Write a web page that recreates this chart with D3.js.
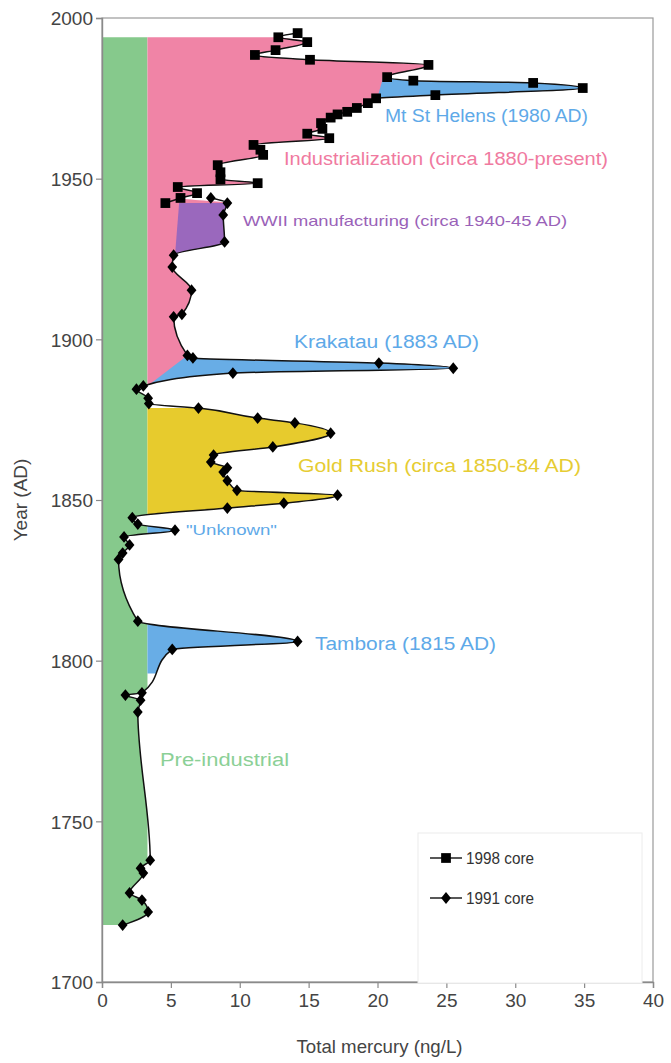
<!DOCTYPE html>
<html>
<head>
<meta charset="utf-8">
<script src="https://cdn.jsdelivr.net/npm/d3@7/dist/d3.min.js"></script>
<style>
  html, body { margin: 0; padding: 0; background: #fff; }
  svg { display: block; }
  .lbl { font-family: "Liberation Sans", Arial, sans-serif; }
</style>
</head>
<body>
<svg id="chart" width="671" height="1063"></svg>
<script>
// ---------------- DATA ----------------
// 1991 core (diamonds): year AD, total mercury ng/L
const years1991 = [1717.7, 1721.8, 1725.5, 1727.7, 1733.9, 1735.4, 1737.9, 1784.0, 1787.7, 1789.3, 1790.0,
  1803.5, 1806.0, 1812.3, 1831.5, 1833.5, 1836.0, 1838.5, 1840.6, 1842.5, 1844.5,
  1847.5, 1849.0, 1851.5, 1853.0, 1856.0, 1858.7, 1860.0, 1861.8, 1864.0, 1866.5, 1870.8, 1874.0, 1875.5, 1878.6,
  1880.0, 1881.7, 1884.5, 1885.5, 1889.5, 1891.0, 1892.6, 1894.2, 1895.0,
  1907.0, 1907.8, 1915.3, 1922.5, 1926.2, 1930.3, 1938.7, 1942.4, 1944.0];
const hg1991 = [1.5, 3.35, 2.9, 2.0, 3.0, 2.8, 3.5, 2.6, 2.8, 1.7, 2.9,
  5.1, 14.2, 2.6, 1.2, 1.5, 2.0, 1.6, 5.3, 2.6, 2.2,
  9.1, 13.2, 17.1, 9.8, 9.1, 8.8, 9.1, 7.9, 8.1, 12.4, 16.6, 14.0, 11.3, 7.0,
  3.4, 3.35, 2.5, 3.0, 9.5, 25.5, 20.1, 6.6, 6.2,
  5.2, 5.8, 6.5, 5.1, 5.2, 8.9, 8.8, 9.1, 7.9];

// 1998 core (squares)
const years1998 = [1942.4, 1944.0, 1945.5, 1947.4, 1948.6, 1949.8, 1952.0, 1954.2, 1957.4, 1959.0, 1960.5,
  1962.6, 1964.0, 1965.5, 1967.3, 1969.0, 1970.0, 1970.8, 1972.0, 1973.5, 1975.0, 1976.0, 1978.2,
  1979.8, 1980.5, 1981.6, 1985.4, 1987.0, 1988.5, 1990.0, 1992.5, 1994.0, 1995.3];
const hg1998 = [4.6, 5.7, 6.9, 5.5, 11.3, 8.6, 8.6, 8.4, 11.7, 11.5, 11.0,
  16.5, 14.9, 16.0, 15.9, 16.6, 17.1, 17.8, 18.5, 19.3, 19.9, 24.2, 34.9,
  31.3, 22.6, 20.7, 23.7, 15.1, 11.1, 12.6, 14.9, 12.8, 14.2];

// Shaded periods: [start year, end year], inner edge (ng/L) at start and end
const periodNames = ["Pre-industrial", "Industrialization", "Gold Rush", "Tambora", "Unknown", "Krakatau", "WWII", "Mt St Helens"];
const periodFrom  = [1700, 1885.3, 1844.6, 1796.0, 1839.2, 1885.5, 1926.2, 1975.3];
const periodTo    = [2000, 2000, 1878.6, 1812.3, 1842.3, 1895.0, 1942.4, 1981.3];
const periodEdge0 = [0, 3.3, 3.3, 3.3, 3.3, 3.3, 5.3, 20.0];
const periodEdge1 = [0, 3.3, 3.3, 3.3, 3.3, 6.2, 5.6, 20.4];
const periodOuter = [3.3, 40, 40, 40, 40, 40, 40, 40];

const xTicks = [0, 5, 10, 15, 20, 25, 30, 35, 40];
const yTicks = [1700, 1750, 1800, 1850, 1900, 1950, 2000];
const legendLabels = ["1998 core", "1991 core"];

// ---------------- STYLE ----------------
const periodColors = {
  "Pre-industrial": "#86c98c",
  "Industrialization": "#f084a6",
  "Gold Rush": "#e7cb2d",
  "Tambora": "#68ade6",
  "Unknown": "#68ade6",
  "Krakatau": "#68ade6",
  "WWII": "#9a68bd",
  "Mt St Helens": "#68ade6"
};

const svg = d3.select("#chart");
const L = 102, R = 653, T = 18, B = 982;
const x = d3.scaleLinear().domain([0, 40]).range([L, R]);
const y = d3.scaleLinear().domain([1700, 2000]).range([B, T]);

const core91 = years1991.map((yr, i) => ({ year: yr, v: hg1991[i] }));
const core98 = years1998.map((yr, i) => ({ year: yr, v: hg1998[i] }));

// envelope: 1991 core up to 1942.4, then 1998 core from 1944 to top of the fill (1994)
const envelope = core91.filter(d => d.year <= 1942.4)
  .concat(core98.filter(d => d.year >= 1944 && d.year <= 1994));

const defs = svg.append("defs");
const clipArea = d3.area().curve(d3.curveMonotoneY)
  .y(d => y(d.year)).x0(x(0)).x1(d => x(d.v));
defs.append("clipPath").attr("id", "under")
  .append("path").attr("d", clipArea(envelope));

// frame
svg.append("rect").attr("x", L).attr("y", T).attr("width", R - L).attr("height", B - T)
  .attr("fill", "none").attr("stroke", "#9a9a9a").attr("stroke-width", 1.2);

// fills
const fills = svg.append("g").attr("clip-path", "url(#under)");
periodNames.forEach((name, i) => {
  const pts = [
    [x(periodEdge0[i]), y(periodFrom[i])],
    [x(periodOuter[i]), y(periodFrom[i])],
    [x(periodOuter[i]), y(periodTo[i])],
    [x(periodEdge1[i]), y(periodTo[i])]
  ];
  fills.append("path").attr("d", "M" + pts.join("L") + "Z")
    .attr("fill", periodColors[name]);
});

// lines
const line = d3.line().curve(d3.curveMonotoneY).y(d => y(d.year)).x(d => x(d.v));
[core91, core98].forEach(s => {
  svg.append("path").attr("d", line(s)).attr("fill", "none")
    .attr("stroke", "#111").attr("stroke-width", 1.5);
});

// markers
const sq = d3.symbol().type(d3.symbolSquare).size(95);
const dm = d3.symbol().type(d3.symbolSquare).size(48);
const dmT = (px, py) => `translate(${px},${py}) scale(1,1.2) rotate(45)`;
svg.append("g").selectAll("path").data(core91).join("path")
  .attr("d", dm).attr("transform", d => dmT(x(d.v), y(d.year))).attr("fill", "#000");
svg.append("g").selectAll("path").data(core98).join("path")
  .attr("d", sq).attr("transform", d => `translate(${x(d.v)},${y(d.year)})`).attr("fill", "#000");

// axes
const yAxis = d3.axisLeft(y).tickValues(yTicks).tickFormat(d3.format("d")).tickSize(6).tickPadding(3);
const xAxis = d3.axisBottom(x).tickValues(xTicks).tickFormat(d3.format("d")).tickSize(6).tickPadding(4);
const gy = svg.append("g").attr("transform", `translate(${L},0)`).call(yAxis);
const gx = svg.append("g").attr("transform", `translate(0,${B})`).call(xAxis);
[gx, gy].forEach(g => {
  g.select(".domain").attr("stroke", "#8a8a8a").attr("stroke-width", 1.4);
  g.selectAll(".tick line").attr("stroke", "#8a8a8a").attr("stroke-width", 1.2);
  g.selectAll(".tick text").attr("class", "lbl").attr("font-size", 19).attr("fill", "#444");
});
gy.selectAll(".tick text").attr("dy", "0.36em");
gx.selectAll(".tick text").attr("dy", "0.8em");

svg.append("text").attr("class", "lbl").attr("x", (L + R) / 2 + 2).attr("y", 1053)
  .attr("text-anchor", "middle").attr("font-size", 19).attr("fill", "#444")
  .attr("textLength", 166).attr("lengthAdjust", "spacingAndGlyphs")
  .text("Total mercury (ng/L)");
svg.append("text").attr("class", "lbl")
  .attr("transform", `translate(27,${(T + B) / 2}) rotate(-90)`)
  .attr("text-anchor", "middle").attr("font-size", 19).attr("fill", "#444")
  .text("Year (AD)");

// annotations
const notes = [
  { t: "Mt St Helens (1980 AD)", x: 385, y: 122, w: 203, s: 18, c: "#5ea9e8" },
  { t: "Industrialization (circa 1880-present)", x: 284, y: 165, w: 324, s: 18, c: "#f07aa0" },
  { t: "WWII manufacturing (circa 1940-45 AD)", x: 243, y: 226, w: 324, s: 15, c: "#9a62b8" },
  { t: "Krakatau (1883 AD)", x: 294, y: 348, w: 185, s: 18, c: "#5ea9e8" },
  { t: "Gold Rush (circa 1850-84 AD)", x: 298, y: 472, w: 283, s: 18, c: "#e6cc33" },
  { t: "\"Unknown\"", x: 186, y: 535, w: 91, s: 15, c: "#5ea9e8" },
  { t: "Tambora (1815 AD)", x: 315, y: 650, w: 181, s: 18, c: "#5ea9e8" },
  { t: "Pre-industrial", x: 160, y: 766, w: 129, s: 18, c: "#8bd096" }
];
notes.forEach(n => {
  svg.append("text").attr("class", "lbl").attr("x", n.x).attr("y", n.y)
    .attr("font-size", n.s).attr("fill", n.c)
    .attr("textLength", n.w).attr("lengthAdjust", "spacingAndGlyphs")
    .text(n.t);
});

// legend
svg.append("rect").attr("x", 418).attr("y", 833).attr("width", 224).attr("height", 150)
  .attr("fill", "#fff").attr("stroke", "#ececec").attr("stroke-width", 1);
legendLabels.forEach((lab, i) => {
  const ly = 858 + i * 40;
  svg.append("line").attr("x1", 430).attr("x2", 462).attr("y1", ly).attr("y2", ly)
    .attr("stroke", "#111").attr("stroke-width", 1.4);
  svg.append("path").attr("d", i === 0 ? sq() : dm())
    .attr("transform", i === 0 ? `translate(446,${ly})` : dmT(446, ly)).attr("fill", "#000");
  svg.append("text").attr("class", "lbl").attr("x", 466).attr("y", ly + 6)
    .attr("font-size", 16).attr("fill", "#333")
    .attr("textLength", 68).attr("lengthAdjust", "spacingAndGlyphs").text(lab);
});
</script>
</body>
</html>
